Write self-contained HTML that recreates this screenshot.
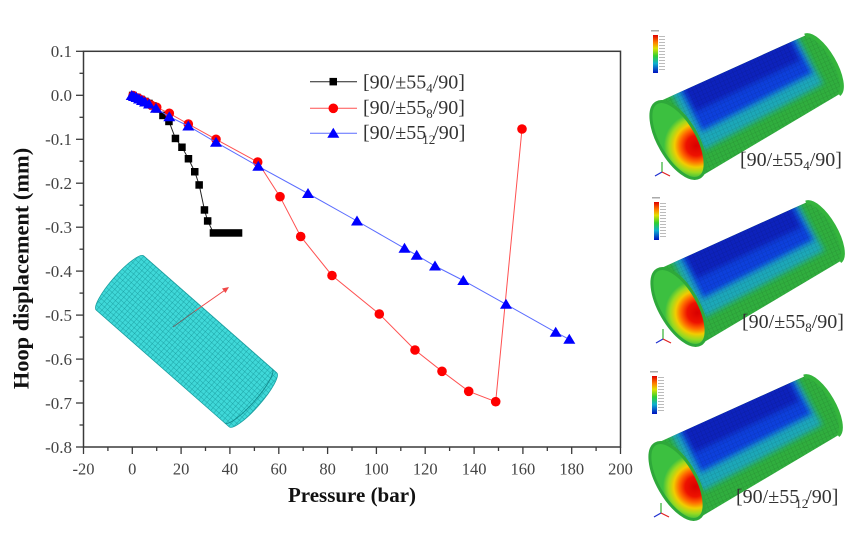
<!DOCTYPE html>
<html><head><meta charset="utf-8"><style>
html,body{margin:0;padding:0;background:#fff;}
svg{display:block;}
text{font-family:"Liberation Serif","Times New Roman",serif;}
</style></head><body>
<svg width="859" height="557" viewBox="0 0 859 557" xmlns="http://www.w3.org/2000/svg">
<defs>
  <pattern id="mesh" width="4" height="4" patternUnits="userSpaceOnUse">
    <rect width="4" height="4" fill="#3fd8d8"/>
    <path d="M0,0H4M0,0V4" stroke="#15999b" stroke-width="0.8"/>
  </pattern>
  <pattern id="femesh" width="4" height="4" patternUnits="userSpaceOnUse" patternTransform="rotate(-24)">
    <path d="M0,0H4M0,0V4" stroke="#000" stroke-width="0.6" stroke-opacity="0.2"/>
  </pattern>
  <radialGradient id="hot" gradientUnits="userSpaceOnUse" cx="691" cy="154" r="36">
    <stop offset="0" stop-color="#d80000"/>
    <stop offset="0.28" stop-color="#ee1200"/>
    <stop offset="0.45" stop-color="#ff6a00"/>
    <stop offset="0.6" stop-color="#f2cc00"/>
    <stop offset="0.75" stop-color="#9ada20"/>
    <stop offset="0.9" stop-color="#3cc040"/>
  </radialGradient>
  <linearGradient id="cbar" x1="0" y1="0" x2="0" y2="1">
    <stop offset="0" stop-color="#e00000"/>
    <stop offset="0.2" stop-color="#ff8000"/>
    <stop offset="0.35" stop-color="#e0e000"/>
    <stop offset="0.55" stop-color="#30d030"/>
    <stop offset="0.75" stop-color="#10b0d0"/>
    <stop offset="1" stop-color="#0010c0"/>
  </linearGradient>
  <filter id="soft" x="-20%" y="-20%" width="140%" height="140%"><feGaussianBlur stdDeviation="3"/></filter>
  <clipPath id="bodyclip"><path d="M656.5,102.8 L805,35.6 A13,34 -30 0 1 839,94.4 L699.5,177.2 A19,43 -30 0 1 656.5,102.8 Z"/></clipPath>

  <g id="fe">
    <path d="M656.5,102.8 L805,35.6 A13,34 -30 0 1 839,94.4 L699.5,177.2 A19,43 -30 0 1 656.5,102.8 Z" fill="#30ae3e"/>
    <g clip-path="url(#bodyclip)">
      <g filter="url(#soft)">
        <polygon points="665,82 791,25 823.4,83.6 703,150.7" fill="#1aa8b8"/>
        <polygon points="672.6,79 788.4,26.6 813.6,73.2 701.7,132.4" fill="#0a40dc"/>
        <polygon points="677,77 784,28.6 800.6,60.4 695.6,112.2" fill="#0a20bc"/>
      </g>
      <rect x="640" y="20" width="210" height="170" fill="url(#femesh)"/>
    </g>
    <path d="M805,35.6 A13,34 -30 0 1 839,94.4" fill="none" stroke="#34b43c" stroke-width="4"/>
    <ellipse cx="678" cy="140" rx="19" ry="43" transform="rotate(-30 678 140)" fill="url(#hot)" stroke="#2ea83a" stroke-width="3"/>
    <rect x="653" y="35" width="5" height="38" fill="url(#cbar)"/>
    <rect x="651" y="30" width="8" height="1.5" fill="#aaa"/>
    <g fill="#bbb">
      <rect x="659" y="36" width="6" height="1"/><rect x="659" y="39" width="6" height="1"/><rect x="659" y="42" width="6" height="1"/>
      <rect x="659" y="45" width="6" height="1"/><rect x="659" y="48" width="6" height="1"/><rect x="659" y="51" width="6" height="1"/>
      <rect x="659" y="54" width="6" height="1"/><rect x="659" y="57" width="6" height="1"/><rect x="659" y="60" width="6" height="1"/>
      <rect x="659" y="63" width="6" height="1"/><rect x="659" y="66" width="6" height="1"/><rect x="659" y="69" width="6" height="1"/>
    </g>
    <line x1="662" y1="172" x2="662" y2="162" stroke="#30b030" stroke-width="1.2"/>
    <line x1="662" y1="172" x2="655" y2="176" stroke="#2030d0" stroke-width="1.2"/>
    <line x1="662" y1="172" x2="670" y2="176" stroke="#e02020" stroke-width="1.2"/>
  </g>
</defs>

<!-- Right side FE results -->
<use href="#fe"/>
<use href="#fe" transform="translate(1,167)"/>
<use href="#fe" transform="translate(-1,341)"/>

<g font-size="20" fill="#333">
  <text x="740" y="166">[90/±55<tspan font-size="13" dy="4">4</tspan><tspan dy="-4">/90]</tspan></text>
  <text x="742" y="328">[90/±55<tspan font-size="13" dy="4">8</tspan><tspan dy="-4">/90]</tspan></text>
  <text x="736" y="503">[90/±55<tspan font-size="13" dy="5" dx="-4">12</tspan><tspan dy="-5" dx="-2">/90]</tspan></text>
</g>

<!-- Teal cylinder inside plot -->
<g transform="translate(120,283) rotate(41.3)">
  <path d="M0,-36 L177,-36 A8,36 0 0 1 177,36 L0,36 A8,36 0 0 1 0,-36 Z" fill="url(#mesh)"/>
  <path d="M171,-36 A8,36 0 0 1 171,36" fill="none" stroke="#138a8c" stroke-width="0.9"/>
  <path d="M0,-36 L177,-36 A8,36 0 0 1 177,36 L0,36 A8,36 0 0 1 0,-36 Z" fill="none" stroke="#1a9fa0" stroke-width="0.8"/>
</g>
<line x1="173" y1="327" x2="195" y2="311" stroke="#666" stroke-width="1"/>
<line x1="195" y1="311" x2="228" y2="288" stroke="#f04848" stroke-width="1"/>
<path d="M229,287 L222,288.5 L225.5,293 Z" fill="#f04848"/>

<!-- Axes frame -->
<rect x="83.5" y="51.3" width="537" height="395.7" fill="none" stroke="#3a3a3a" stroke-width="1.5"/>

<!-- X ticks -->
<g stroke="#3a3a3a" stroke-width="1.3">
  <line x1="83.5" y1="447" x2="83.5" y2="454"/><line x1="132.3" y1="447" x2="132.3" y2="454"/>
  <line x1="181.1" y1="447" x2="181.1" y2="454"/><line x1="229.9" y1="447" x2="229.9" y2="454"/>
  <line x1="278.8" y1="447" x2="278.8" y2="454"/><line x1="327.6" y1="447" x2="327.6" y2="454"/>
  <line x1="376.4" y1="447" x2="376.4" y2="454"/><line x1="425.2" y1="447" x2="425.2" y2="454"/>
  <line x1="474.1" y1="447" x2="474.1" y2="454"/><line x1="522.9" y1="447" x2="522.9" y2="454"/>
  <line x1="571.7" y1="447" x2="571.7" y2="454"/><line x1="620.5" y1="447" x2="620.5" y2="454"/>
  <line x1="107.9" y1="447" x2="107.9" y2="451"/><line x1="156.7" y1="447" x2="156.7" y2="451"/>
  <line x1="205.5" y1="447" x2="205.5" y2="451"/><line x1="254.4" y1="447" x2="254.4" y2="451"/>
  <line x1="303.2" y1="447" x2="303.2" y2="451"/><line x1="352" y1="447" x2="352" y2="451"/>
  <line x1="400.8" y1="447" x2="400.8" y2="451"/><line x1="449.6" y1="447" x2="449.6" y2="451"/>
  <line x1="498.5" y1="447" x2="498.5" y2="451"/><line x1="547.3" y1="447" x2="547.3" y2="451"/>
  <line x1="596.1" y1="447" x2="596.1" y2="451"/>
</g>
<!-- Y ticks -->
<g stroke="#3a3a3a" stroke-width="1.3">
  <line x1="76" y1="51.3" x2="83.5" y2="51.3"/><line x1="76" y1="95.3" x2="83.5" y2="95.3"/>
  <line x1="76" y1="139.3" x2="83.5" y2="139.3"/><line x1="76" y1="183.2" x2="83.5" y2="183.2"/>
  <line x1="76" y1="227.2" x2="83.5" y2="227.2"/><line x1="76" y1="271.1" x2="83.5" y2="271.1"/>
  <line x1="76" y1="315.1" x2="83.5" y2="315.1"/><line x1="76" y1="359.1" x2="83.5" y2="359.1"/>
  <line x1="76" y1="403" x2="83.5" y2="403"/><line x1="76" y1="447" x2="83.5" y2="447"/>
  <line x1="79.5" y1="73.3" x2="83.5" y2="73.3"/><line x1="79.5" y1="117.3" x2="83.5" y2="117.3"/>
  <line x1="79.5" y1="161.2" x2="83.5" y2="161.2"/><line x1="79.5" y1="205.2" x2="83.5" y2="205.2"/>
  <line x1="79.5" y1="249.2" x2="83.5" y2="249.2"/><line x1="79.5" y1="293.1" x2="83.5" y2="293.1"/>
  <line x1="79.5" y1="337.1" x2="83.5" y2="337.1"/><line x1="79.5" y1="381" x2="83.5" y2="381"/>
  <line x1="79.5" y1="425" x2="83.5" y2="425"/>
</g>

<!-- Tick labels -->
<g font-size="16.5" fill="#444" text-anchor="middle">
  <text x="83.5" y="474.5">-20</text><text x="132.3" y="474.5">0</text><text x="181.1" y="474.5">20</text>
  <text x="229.9" y="474.5">40</text><text x="278.8" y="474.5">60</text><text x="327.6" y="474.5">80</text>
  <text x="376.4" y="474.5">100</text><text x="425.2" y="474.5">120</text><text x="474.1" y="474.5">140</text>
  <text x="522.9" y="474.5">160</text><text x="571.7" y="474.5">180</text><text x="620.5" y="474.5">200</text>
</g>
<g font-size="17" fill="#444" text-anchor="end">
  <text x="72" y="57">0.1</text><text x="72" y="101">0.0</text><text x="72" y="145">-0.1</text>
  <text x="72" y="189">-0.2</text><text x="72" y="233">-0.3</text><text x="72" y="277">-0.4</text>
  <text x="72" y="321">-0.5</text><text x="72" y="365">-0.6</text><text x="72" y="409">-0.7</text>
  <text x="72" y="453">-0.8</text>
</g>

<!-- Axis titles -->
<text x="352" y="502" font-size="21" font-weight="bold" fill="#111" text-anchor="middle">Pressure (bar)</text>
<text transform="translate(28.5,268.5) rotate(-90)" font-size="22.4" font-weight="bold" fill="#111" text-anchor="middle">Hoop displacement (mm)</text>

<!-- Black series -->
<polyline fill="none" stroke="#222" stroke-width="1" points="132.7,95.5 137,97.5 141,99.5 145,101.5 149,103.5 153,106 157,109 163,115.5 169,121.5 175.5,138.5 182,147.3 188.5,158.8 194.8,171.8 199.2,185 204.5,210 207.7,221 213.5,233 238.5,233"/>
<g fill="#000">
  <rect x="128.9" y="91.7" width="7.5" height="7.5"/><rect x="133.2" y="93.7" width="7.5" height="7.5"/>
  <rect x="137.2" y="95.7" width="7.5" height="7.5"/><rect x="141.2" y="97.7" width="7.5" height="7.5"/>
  <rect x="145.2" y="99.7" width="7.5" height="7.5"/><rect x="149.2" y="102.2" width="7.5" height="7.5"/>
  <rect x="153.2" y="105.2" width="7.5" height="7.5"/><rect x="159.2" y="111.7" width="7.5" height="7.5"/>
  <rect x="165.2" y="117.7" width="7.5" height="7.5"/><rect x="171.7" y="134.7" width="7.5" height="7.5"/>
  <rect x="178.2" y="143.5" width="7.5" height="7.5"/><rect x="184.7" y="155" width="7.5" height="7.5"/>
  <rect x="191" y="168" width="7.5" height="7.5"/><rect x="195.4" y="181.2" width="7.5" height="7.5"/>
  <rect x="200.7" y="206.2" width="7.5" height="7.5"/><rect x="203.9" y="217.2" width="7.5" height="7.5"/>
  <rect x="209.7" y="229.2" width="32.6" height="7.5"/>
</g>

<!-- Red series -->
<polyline fill="none" stroke="#ff5050" stroke-width="1" points="133,95.5 138,98 142,100 146.7,102.7 151,105 156.7,107.3 169.3,113.3 188.3,124 216,139.3 257.7,162 280,196.7 300.7,236.5 332,275.5 379.3,314 415,350 442,371.3 468.7,391.3 495.7,401.7 522,129"/>
<g fill="#f00">
  <circle cx="133" cy="95.5" r="4.8"/><circle cx="138" cy="98" r="4.8"/><circle cx="142" cy="100" r="4.8"/>
  <circle cx="146.7" cy="102.7" r="4.8"/><circle cx="151" cy="105" r="4.8"/><circle cx="156.7" cy="107.3" r="4.8"/>
  <circle cx="169.3" cy="113.3" r="4.8"/><circle cx="188.3" cy="124" r="4.8"/><circle cx="216" cy="139.3" r="4.8"/>
  <circle cx="257.7" cy="162" r="4.8"/><circle cx="280" cy="196.7" r="4.8"/><circle cx="300.7" cy="236.5" r="4.8"/>
  <circle cx="332" cy="275.5" r="4.8"/><circle cx="379.3" cy="314" r="4.8"/><circle cx="415" cy="350" r="4.8"/>
  <circle cx="442" cy="371.3" r="4.8"/><circle cx="468.7" cy="391.3" r="4.8"/><circle cx="495.7" cy="401.7" r="4.8"/>
  <circle cx="522" cy="129" r="4.8"/>
</g>

<!-- Blue series -->
<polyline fill="none" stroke="#5a6cff" stroke-width="1" points="131.7,95.5 134,96.5 136.5,97.5 139,99 142,100.5 145,102 149,104 156,108.3 169.3,116.7 188.3,126 216,142.3 258.3,166.3 308,193.5 357,221 404.5,248.3 416.7,255.2 435,266 463.3,280.5 506,304.3 555.7,332.3 569.3,339.3"/>
<g fill="#0000ff">
  <path d="M131.7,90 L125.7,100 L137.7,100 Z"/><path d="M134,91 L128,101 L140,101 Z"/>
  <path d="M136.5,92 L130.5,102 L142.5,102 Z"/><path d="M139,93.5 L133,103.5 L145,103.5 Z"/>
  <path d="M142,95 L136,105 L148,105 Z"/><path d="M145,96.5 L139,106.5 L151,106.5 Z"/>
  <path d="M149,98.5 L143,108.5 L155,108.5 Z"/><path d="M156,102.8 L150,112.8 L162,112.8 Z"/>
  <path d="M169.3,111.2 L163.3,121.2 L175.3,121.2 Z"/><path d="M188.3,120.5 L182.3,130.5 L194.3,130.5 Z"/>
  <path d="M216,136.8 L210,146.8 L222,146.8 Z"/><path d="M258.3,160.8 L252.3,170.8 L264.3,170.8 Z"/>
  <path d="M308,188 L302,198 L314,198 Z"/><path d="M357,215.5 L351,225.5 L363,225.5 Z"/>
  <path d="M404.5,242.8 L398.5,252.8 L410.5,252.8 Z"/><path d="M416.7,249.7 L410.7,259.7 L422.7,259.7 Z"/>
  <path d="M435,260.5 L429,270.5 L441,270.5 Z"/><path d="M463.3,275 L457.3,285 L469.3,285 Z"/>
  <path d="M506,298.8 L500,308.8 L512,308.8 Z"/><path d="M555.7,326.8 L549.7,336.8 L561.7,336.8 Z"/>
  <path d="M569.3,333.8 L563.3,343.8 L575.3,343.8 Z"/>
</g>

<!-- Legend -->
<line x1="310" y1="81.7" x2="357" y2="81.7" stroke="#222" stroke-width="1"/>
<rect x="329.5" y="77.9" width="7.5" height="7.5" fill="#000"/>
<line x1="310" y1="108.3" x2="357" y2="108.3" stroke="#ff5050" stroke-width="1"/>
<circle cx="333.3" cy="108.3" r="4.8" fill="#f00"/>
<line x1="310" y1="133.3" x2="357" y2="133.3" stroke="#5a6cff" stroke-width="1"/>
<path d="M333.3,127.8 L327.3,137.8 L339.3,137.8 Z" fill="#0000ff"/>
<g font-size="20" fill="#333">
  <text x="363" y="88.5">[90/±55<tspan font-size="13" dy="4">4</tspan><tspan dy="-4">/90]</tspan></text>
  <text x="363" y="114">[90/±55<tspan font-size="13" dy="4">8</tspan><tspan dy="-4">/90]</tspan></text>
  <text x="363" y="139">[90/±55<tspan font-size="13" dy="5" dx="-4">12</tspan><tspan dy="-5" dx="-2">/90]</tspan></text>
</g>
</svg>
</body></html>
